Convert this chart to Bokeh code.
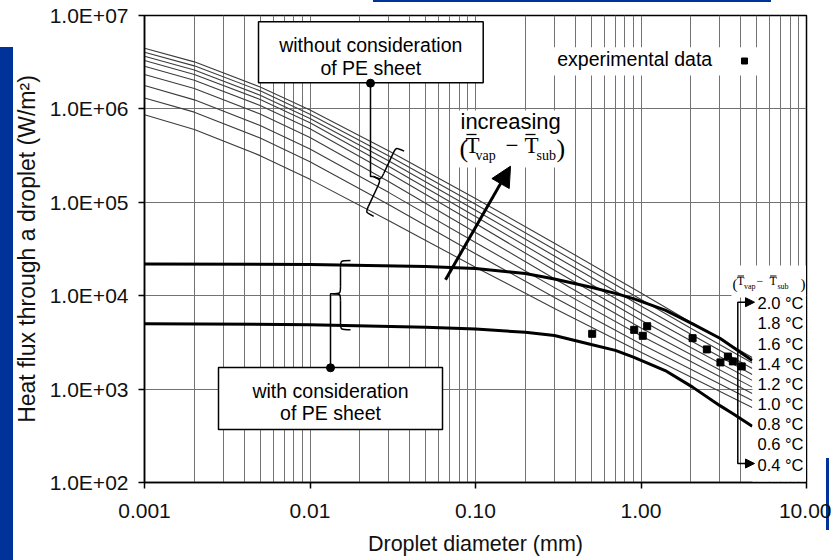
import math
from bokeh.plotting import figure
from bokeh.models import Range1d, FixedTicker, BoxAnnotation, Label, Arrow, NormalHead
from bokeh.embed import file_html
from bokeh.resources import INLINE

# ---------------- data ----------------
diam = [0.001, 0.002, 0.005, 0.01, 0.03, 0.1, 0.3, 1.0, 2.0, 4.7]

flux_2_0 = [4.47e6, 3.19e6, 1.72e6, 9.72e5, 3.55e5, 1.10e5, 3.65e4, 1.07e4, 5.2e3, 2.18e3]
flux_1_8 = [4.05e6, 2.89e6, 1.56e6, 8.77e5, 3.13e5, 9.51e4, 3.12e4, 9.10e3, 4.49e3, 1.90e3]
flux_1_6 = [3.66e6, 2.61e6, 1.40e6, 7.91e5, 2.77e5, 8.24e4, 2.66e4, 7.76e3, 3.87e3, 1.66e3]
flux_1_4 = [3.30e6, 2.34e6, 1.26e6, 7.10e5, 2.42e5, 7.03e4, 2.24e4, 6.50e3, 3.29e3, 1.43e3]
flux_1_2 = [2.86e6, 2.03e6, 1.09e6, 6.12e5, 2.06e5, 5.92e4, 1.87e4, 5.46e3, 2.79e3, 1.24e3]
flux_1_0 = [2.33e6, 1.65e6, 8.81e5, 4.94e5, 1.66e5, 4.76e4, 1.52e4, 4.52e3, 2.35e3, 1.05e3]
flux_0_8 = [1.78e6, 1.25e6, 6.65e5, 3.73e5, 1.27e5, 3.71e4, 1.22e4, 3.73e3, 1.97e3, 898]
flux_0_6 = [1.31e6, 9.23e5, 4.88e5, 2.72e5, 9.40e4, 2.82e4, 9.55e3, 3.04e3, 1.63e3, 755]
flux_0_4 = [8.65e5, 6.03e5, 3.16e5, 1.76e5, 6.35e4, 2.02e4, 7.30e3, 2.48e3, 1.35e3, 635]

dT_labels = ["2.0", "1.8", "1.6", "1.4", "1.2", "1.0", "0.8", "0.6", "0.4"]
no_pe_curves = [flux_2_0, flux_1_8, flux_1_6, flux_1_4, flux_1_2,
                flux_1_0, flux_0_8, flux_0_6, flux_0_4]

pe_diam = [0.001, 0.01, 0.05, 0.1, 0.2, 0.3, 0.5, 0.7, 0.9, 1.4, 2.05, 3.0, 3.6, 4.7]
pe_flux_2_0 = [2.19e4, 2.16e4, 2.06e4, 1.96e4, 1.73e4, 1.51e4, 1.23e4, 1.06e4, 9.3e3,
               7.0e3, 5.0e3, 3.5e3, 2.8e3, 2.02e3]
pe_flux_0_4 = [5.0e3, 4.9e3, 4.6e3, 4.4e3, 4.05e3, 3.75e3, 3.0e3, 2.6e3, 2.2e3,
               1.58e3, 1.05e3, 665, 545, 400]

exp_diam = [0.507, 0.91, 1.025, 1.09, 2.05, 2.5, 3.02, 3.35, 3.59, 4.06]
exp_flux = [3.91e3, 4.31e3, 3.72e3, 4.71e3, 3.51e3, 2.66e3, 1.93e3, 2.23e3, 1.98e3, 1.75e3]

xtick_vals = [0.001, 0.01, 0.1, 1.0, 10.0]
xtick_labels = ["0.001", "0.01", "0.10", "1.00", "10.00"]
ytick_vals = [1e2, 1e3, 1e4, 1e5, 1e6, 1e7]
ytick_labels = ["1.0E+02", "1.0E+03", "1.0E+04", "1.0E+05", "1.0E+06", "1.0E+07"]
x_title = "Droplet diameter (mm)"
y_title = "Heat flux through a droplet (W/m\u00b2)"

# ---------------- figure ----------------
SANS = "Liberation Sans"
SERIF = "Liberation Serif"
GRID = "#737373"

p = figure(width=831, height=560, x_axis_type="log", y_axis_type="log",
           x_range=Range1d(0.001, 10), y_range=Range1d(100, 1e7),
           output_backend="svg", toolbar_location=None,
           min_border_left=144, min_border_right=25, min_border_top=15, min_border_bottom=78,
           x_axis_label=x_title, y_axis_label=y_title)
p.outline_line_color = "black"
p.outline_line_width = 1.5
p.background_fill_color = "white"
p.border_fill_color = None
# blue slide decorations (left bar, top line, bottom-right mark)
p.stylesheets = [
    ":host { background: linear-gradient(#003399, #003399) no-repeat 826px 458px / 3px 72px, white; }",
    ":host::after { content: ''; position: absolute; left: 0px; top: 47px; width: 13px;"
    " height: 513px; background: #003399; z-index: 50; }",
    ":host::before { content: ''; position: absolute; left: 373px; top: 0px; width: 398px;"
    " height: 2px; background: #003399; z-index: 50; }",
]

x_minor = [m * t for t in xtick_vals[:-1] for m in range(2, 10)]
p.xaxis.ticker = FixedTicker(ticks=xtick_vals, minor_ticks=[])
p.yaxis.ticker = FixedTicker(ticks=ytick_vals, minor_ticks=[])
p.xaxis.major_label_overrides = dict(zip(xtick_vals, xtick_labels))
p.yaxis.major_label_overrides = dict(zip(ytick_vals, ytick_labels))
p.xgrid.ticker = FixedTicker(ticks=xtick_vals, minor_ticks=x_minor)
p.ygrid.ticker = FixedTicker(ticks=ytick_vals, minor_ticks=[])
p.xgrid.grid_line_color = GRID
p.xgrid.minor_grid_line_color = GRID
p.ygrid.grid_line_color = GRID
p.ygrid.minor_grid_line_color = None

for ax in (p.xaxis[0], p.yaxis[0]):
    ax.major_label_text_font = SANS
    ax.major_label_text_font_size = "21px"
    ax.major_label_text_color = "#111111"
    ax.axis_label_text_font = SANS
    ax.axis_label_text_font_style = "normal"
    ax.axis_label_text_color = "#111111"
    ax.major_tick_out = 6
    ax.major_tick_in = 0
    ax.minor_tick_out = 0
    ax.minor_tick_in = 0
    ax.axis_line_width = 1.5
    ax.major_tick_line_width = 1.5
p.xaxis.axis_label_text_font_size = "21.5px"
p.yaxis.axis_label_text_font_size = "23px"
p.xaxis.major_label_standoff = 15
p.xaxis.axis_label_standoff = 11
p.yaxis.major_label_standoff = 10
p.yaxis.axis_label_standoff = 7

# ---------------- data marks ----------------
for vals in no_pe_curves:
    p.line(diam, vals, line_color="#3c3c3c", line_width=1.1)
p.line(pe_diam, pe_flux_2_0, line_color="black", line_width=3)
p.line(pe_diam, pe_flux_0_4, line_color="black", line_width=3)
p.scatter(exp_diam, exp_flux, marker="square", size=7, color="black")

# ---------------- annotation helpers (reference-pixel -> data) ----------------
def X(px):
    return 10 ** ((px - 144.0) / 165.5 - 3)

def Y(py):
    return 10 ** (7 - (py - 15.0) / 93.4)

def wbox(x0, y0, x1, y1, border=True):
    p.add_layout(BoxAnnotation(left=X(x0), right=X(x1), top=Y(y0), bottom=Y(y1),
                               fill_color="white", fill_alpha=1,
                               line_color="black" if border else None,
                               line_alpha=1, line_width=1.5))

def label(txt, px, py, size, font=SANS, align="left", color="black"):
    # py is the wanted baseline (reference pixels); Bokeh puts it ~0.3em lower
    fs = float(size.replace("px", ""))
    p.add_layout(Label(x=X(px), y=Y(py - 0.3 * fs), text=txt, text_font=font,
                       text_font_size=size, text_align=align, text_baseline="alphabetic",
                       text_color=color))

def hline(pts, width=1.5):
    p.line([X(a) for a, _ in pts], [Y(b) for _, b in pts], line_color="black",
           line_width=width, level="overlay")

def brace(tx, ty, h1, h2, a, e, theta_deg):
    th = math.radians(theta_deg)
    c, s = math.cos(th), math.sin(th)
    r = 7
    segs = [
        [(e, -h1), (a, -h1), (a, -h1), (a, -h1 + r)],
        [(a, -h1 + r), (a, -h1 + r), (a, -r), (a, -r)],
        [(a, -r), (a, 0), (a, 0), (0, 0)],
        [(0, 0), (a, 0), (a, 0), (a, r)],
        [(a, r), (a, r), (a, h2 - r), (a, h2 - r)],
        [(a, h2 - r), (a, h2), (a, h2), (e, h2)],
    ]
    cols = {k: [] for k in ("x0", "y0", "cx0", "cy0", "cx1", "cy1", "x1", "y1")}
    for seg in segs:
        pts = [(tx + lx * c - ly * s, ty + lx * s + ly * c) for lx, ly in seg]
        for (kx, ky), (qx, qy) in zip([("x0", "y0"), ("cx0", "cy0"), ("cx1", "cy1"), ("x1", "y1")], pts):
            cols[kx].append(X(qx))
            cols[ky].append(Y(qy))
    p.bezier(line_color="black", line_width=1.5, level="overlay", **cols)

def dot(px, py):
    p.scatter([X(px)], [Y(py)], marker="circle", size=8, color="black", level="overlay")

def expr(pieces, bars, bar_w):
    for txt, px, py, size in pieces:
        label(txt, px, py, size, font=SERIF)
    for x0, x1, y in bars:
        p.line([X(x0), X(x1)], [Y(y), Y(y)], line_color="black", line_width=bar_w, level="overlay")

# white areas
wbox(258, 21.3, 482.7, 82.3)
wbox(218, 367, 442, 429)
wbox(551.7, 46.7, 760, 75, border=False)
wbox(457, 110, 567, 167, border=False)
wbox(731, 265, 805.5, 297, border=False)
wbox(752, 297, 805.5, 481, border=False)

# box texts
label("without consideration", 370.3, 50, "19.5px", align="center")
label("of PE sheet", 370.3, 73, "19.5px", align="center")
label("with consideration", 330, 396.5, "19.5px", align="center")
label("of PE sheet", 330, 418, "19.5px", align="center")
label("experimental data", 556.7, 64, "19.5px")
p.scatter([X(744)], [Y(60.5)], marker="square", size=6, color="black", level="overlay")

# "increasing (Tvap - Tsub)"
label("increasing", 460, 128, "22px")
expr([("(", 459, 156, "26px"), ("T", 465, 151.7, "23px"), ("vap", 475, 159, "14px"),
      ("\u2212", 505, 151.7, "23px"), ("T", 524, 151.7, "23px"), ("sub", 536, 159, "14px"),
      (")", 556, 156, "26px")],
     [(466, 476, 134), (525, 535, 134)], 1.3)

# braces, connectors and dots
brace(373, 176, 36, 36, 8, 17, 25)
hline([(370, 82.7), (370, 176), (373, 176)])
dot(370, 82.7)
brace(331.7, 293.3, 33.3, 36, 8.3, 18.3, 0)
hline([(331.7, 293.3), (330, 293.3), (330, 367.3)])
dot(330, 367.3)

# increasing arrow
p.add_layout(Arrow(x_start=X(445), y_start=Y(279.3), x_end=X(510), y_end=Y(165.7),
                   line_width=3, line_color="black",
                   end=NormalHead(size=20, fill_color="black", line_color="black")))

# right-hand legend of temperature differences
expr([("(", 732, 288, "15px"), ("T", 736.5, 284.5, "12px"), ("vap", 743.5, 288, "8px"),
      ("\u2212", 756, 284.5, "12px"), ("T", 769, 284.5, "12px"), ("sub", 777, 288, "8px"),
      (")", 800, 288, "15px")],
     [(737, 743.5, 275.5), (769.5, 776, 275.5)], 1)
step = (463.0 - 301.7) / (len(dT_labels) - 1)
for i, lab in enumerate(dT_labels):
    label(lab + " \u00b0C", 803, 301.7 + i * step + 6, "16.5px", align="right")
hline([(745, 301.7), (737.3, 301.7), (737.3, 463), (745, 463)])
for yy in (301.7, 463):
    p.add_layout(Arrow(x_start=X(744), y_start=Y(yy), x_end=X(754), y_end=Y(yy),
                       line_width=1.5, line_color="black",
                       end=NormalHead(size=9, fill_color="black", line_color="black")))

open("out.html", "w").write(file_html(p, INLINE))
